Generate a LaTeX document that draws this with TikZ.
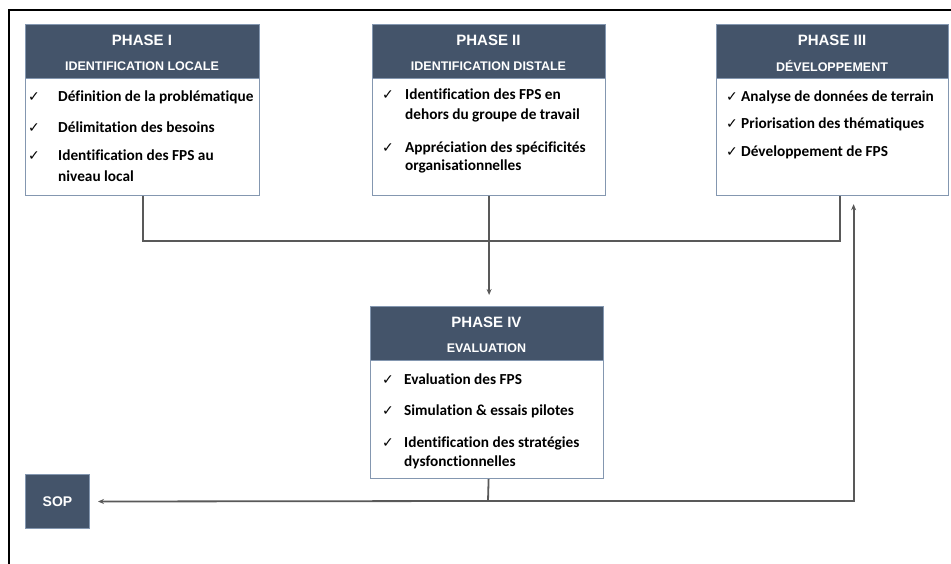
\documentclass[tikz,border=0pt]{standalone}
\usepackage{fontspec}
\setmainfont{Carlito}[Ligatures=NoCommon]
\newfontfamily\hdrfont{Liberation Sans}
\newfontfamily\symfont{DejaVu Sans}
\usetikzlibrary{arrows.meta}
\definecolor{slate}{HTML}{44546A}
\definecolor{boxedge}{HTML}{8497B0}
\definecolor{wire}{HTML}{595959}
\tikzset{
  hdr/.style={draw=boxedge, line width=1pt, fill=slate, anchor=north west, inner sep=0pt},
  body/.style={draw=boxedge, line width=1.2pt, fill=white, anchor=north west, inner sep=0pt},
  ttl/.style={text=white, font=\hdrfont\bfseries\fontsize{15}{17}\selectfont, inner sep=0pt},
  sub/.style={text=white, font=\hdrfont\bfseries\fontsize{12.5}{15}\selectfont, inner sep=0pt},
  tick/.style={anchor=base west, inner sep=0pt, font=\symfont\fontsize{14}{16}\selectfont},
  item/.style={anchor=base west, inner sep=0pt, font=\bfseries\fontsize{15.3}{18}\selectfont},
  wireline/.style={draw=wire, line width=1.8pt},
  arrow/.style={wireline, -{Stealth[length=6pt, width=5pt]}},
}
\begin{document}
\begin{tikzpicture}[x=1pt, y=-1pt]
\useasboundingbox (0,0) rectangle (951,564);
\fill[white] (0,0) rectangle (951,564);
% outer frame (open on the right and bottom)
\draw[line width=2pt, black] (9,564) -- (9,10) -- (951,10);

% ---------- Phase I ----------
\node[hdr, minimum width=234, minimum height=54] (p1h) at (25,24) {};
\node[body, minimum width=234, minimum height=117] (p1b) at (25,78) {};
\node[ttl] (p1t) at (142,40) {PHASE I};
\node[sub] (p1s) at (142,66) {IDENTIFICATION LOCALE};
\node[tick] (p1c1) at (28,102) {✓};
\node[item] (p1i1) at (58,102) {Définition de la problématique};
\node[tick] (p1c2) at (28,133) {✓};
\node[item] (p1i2) at (58,133) {Délimitation des besoins};
\node[tick] (p1c3) at (28,161) {✓};
\node[item] (p1i3) at (58,161) {Identification des FPS au};
\node[item] (p1i3b) at (58,182) {niveau local};

% ---------- Phase II ----------
\node[hdr, minimum width=233, minimum height=54] (p2h) at (372,24) {};
\node[body, minimum width=233, minimum height=117] (p2b) at (372,78) {};
\node[ttl] (p2t) at (488.5,40) {PHASE II};
\node[sub] (p2s) at (488.5,66) {IDENTIFICATION DISTALE};
\node[tick] (p2c1) at (382,100) {✓};
\node[item] (p2i1) at (405,100) {Identification des FPS en};
\node[item] (p2i1b) at (405,120) {dehors du groupe de travail};
\node[tick] (p2c2) at (382,153) {✓};
\node[item] (p2i2) at (405,153) {Appréciation des spécificités};
\node[item] (p2i2b) at (405,171) {organisationnelles};

% ---------- Phase III ----------
\node[hdr, minimum width=232, minimum height=54] (p3h) at (716,24) {};
\node[body, minimum width=232, minimum height=117] (p3b) at (716,78) {};
\node[ttl] (p3t) at (832,40) {PHASE III};
\node[sub] (p3s) at (832,66) {DÉVELOPPEMENT};
\node[tick] (p3c1) at (726,102) {✓};
\node[item] (p3i1) at (741,102) {Analyse de données de terrain};
\node[tick] (p3c2) at (726,129) {✓};
\node[item] (p3i2) at (741,129) {Priorisation des thématiques};
\node[tick] (p3c3) at (726,157) {✓};
\node[item] (p3i3) at (741,157) {Développement de FPS};

% ---------- Phase IV ----------
\node[hdr, minimum width=233, minimum height=54] (p4h) at (370,306) {};
\node[body, minimum width=233, minimum height=118] (p4b) at (370,360) {};
\node[ttl] (p4t) at (486.5,322) {PHASE IV};
\node[sub] (p4s) at (486.5,348) {EVALUATION};
\node[tick] (p4c1) at (382,384) {✓};
\node[item] (p4i1) at (404,384) {Evaluation des FPS};
\node[tick] (p4c2) at (382,415) {✓};
\node[item] (p4i2) at (404,415) {Simulation \& essais pilotes};
\node[tick] (p4c3) at (382,447) {✓};
\node[item] (p4i3) at (404,447) {Identification des stratégies};
\node[item] (p4i3b) at (404,466) {dysfonctionnelles};

% ---------- SOP ----------
\node[hdr, minimum width=64, minimum height=54, text=white,
      font=\hdrfont\bfseries\fontsize{14}{16}\selectfont] (sop) at (25,474) {SOP};

% ---------- connectors ----------
\coordinate (join) at (488,241);
\draw[wireline] (p1b.south) -- (p1b.south |- join) -- ([xshift=7pt]p3b.south |- join) -- ([xshift=7pt]p3b.south);
\draw[arrow] (p2b.south) -- ([yshift=11pt]p4h.north -| p2b.south);
\coordinate (foot) at (488,501);
\draw[arrow] ([xshift=1.5pt]p4b.south) -- (foot) -- ([xshift=8pt]sop.east);
\draw[arrow] (foot) -| ([xshift=21pt, yshift=-8pt]p3b.south);
\end{tikzpicture}
\end{document}
